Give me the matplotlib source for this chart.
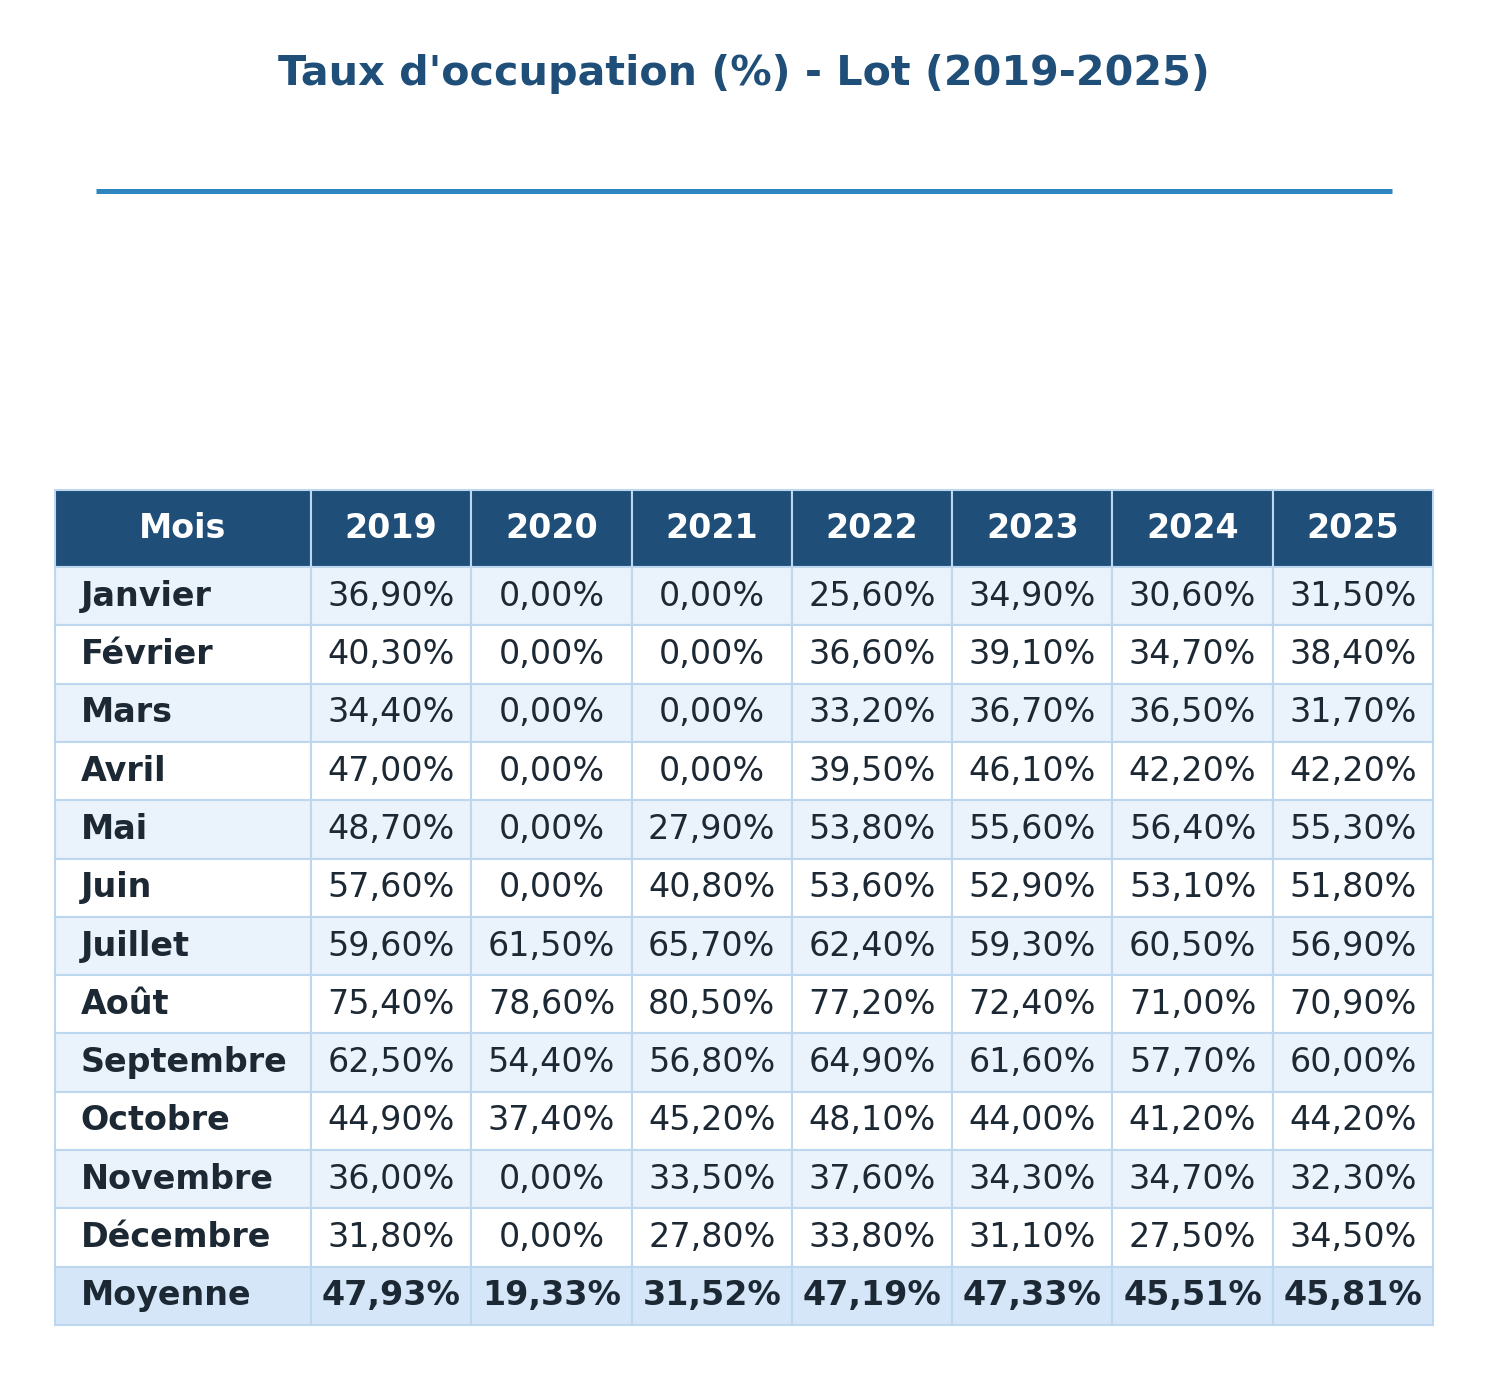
import matplotlib
matplotlib.use("Agg")
import matplotlib.pyplot as plt
from matplotlib.lines import Line2D

W, H = 1488, 1380

mois = ["Janvier", "Février", "Mars", "Avril", "Mai", "Juin", "Juillet",
        "Août", "Septembre", "Octobre", "Novembre", "Décembre"]
annees = ["2019", "2020", "2021", "2022", "2023", "2024", "2025"]

taux_2019 = [36.9, 40.3, 34.4, 47.0, 48.7, 57.6, 59.6, 75.4, 62.5, 44.9, 36.0, 31.8]
taux_2020 = [0.0, 0.0, 0.0, 0.0, 0.0, 0.0, 61.5, 78.6, 54.4, 37.4, 0.0, 0.0]
taux_2021 = [0.0, 0.0, 0.0, 0.0, 27.9, 40.8, 65.7, 80.5, 56.8, 45.2, 33.5, 27.8]
taux_2022 = [25.6, 36.6, 33.2, 39.5, 53.8, 53.6, 62.4, 77.2, 64.9, 48.1, 37.6, 33.8]
taux_2023 = [34.9, 39.1, 36.7, 46.1, 55.6, 52.9, 59.3, 72.4, 61.6, 44.0, 34.3, 31.1]
taux_2024 = [30.6, 34.7, 36.5, 42.2, 56.4, 53.1, 60.5, 71.0, 57.7, 41.2, 34.7, 27.5]
taux_2025 = [31.5, 38.4, 31.7, 42.2, 55.3, 51.8, 56.9, 70.9, 60.0, 44.2, 32.3, 34.5]
moyennes = [47.93, 19.33, 31.52, 47.19, 47.33, 45.51, 45.81]

series = [taux_2019, taux_2020, taux_2021, taux_2022, taux_2023, taux_2024, taux_2025]

HEADER_BG = "#1f4e79"
EDGE = "#bdd7ee"
TXT = "#1c2833"
ROW_A = "#eaf2fb"
ROW_B = "#ffffff"
AVG_BG = "#d4e6f7"


def fmt(v):
    return f"{v:.2f}".replace(".", ",") + "%"


fig = plt.figure(figsize=(W / 100, H / 100), dpi=100)
ax = fig.add_axes([0, 0, 1, 1])
ax.set_axis_off()

fig.text(0.5, 1 - 74 / H, "Taux d'occupation (%) - Lot (2019-2025)",
         ha="center", va="center", fontsize=29.7, fontweight="bold", color=HEADER_BG)
fig.add_artist(Line2D([96 / W, 1392 / W], [1 - 191 / H, 1 - 191 / H],
                      color="#2e86c1", linewidth=3.6, solid_capstyle="butt",
                      transform=fig.transFigure))

cells = [[m] + [fmt(s[i]) for s in series] for i, m in enumerate(mois)]
cells.append(["Moyenne"] + [fmt(v) for v in moyennes])

tab_left, tab_right, tab_top, tab_bottom = 55, 1433, 490, 1325
tbl = ax.table(cellText=cells, colLabels=["Mois"] + annees,
               bbox=[tab_left / W, 1 - tab_bottom / H,
                     (tab_right - tab_left) / W, (tab_bottom - tab_top) / H])
tbl.auto_set_font_size(False)

col_w = [256] + [160.3] * len(annees)
n_rows = len(cells)
for (r, c), cell in tbl.get_celld().items():
    cell.set_width(col_w[c])
    cell.set_height(77 if r == 0 else 58.3)
    cell.set_edgecolor(EDGE)
    cell.set_linewidth(1.5)
    txt = cell.get_text()
    txt.set_fontsize(24)
    if r == 0:
        cell.set_facecolor(HEADER_BG)
        txt.set_color("white")
        txt.set_fontweight("bold")
        cell._loc = "center"
        txt.set_ha("center")
    else:
        if r == n_rows:
            cell.set_facecolor(AVG_BG)
        else:
            cell.set_facecolor(ROW_A if r % 2 == 1 else ROW_B)
        txt.set_color(TXT)
        if c == 0:
            cell._loc = "left"
            txt.set_ha("left")
            txt.set_fontweight("bold")
        else:
            cell._loc = "center"
            txt.set_ha("center")
            if r == n_rows:
                txt.set_fontweight("bold")

fig.savefig("out.png", dpi=100)
